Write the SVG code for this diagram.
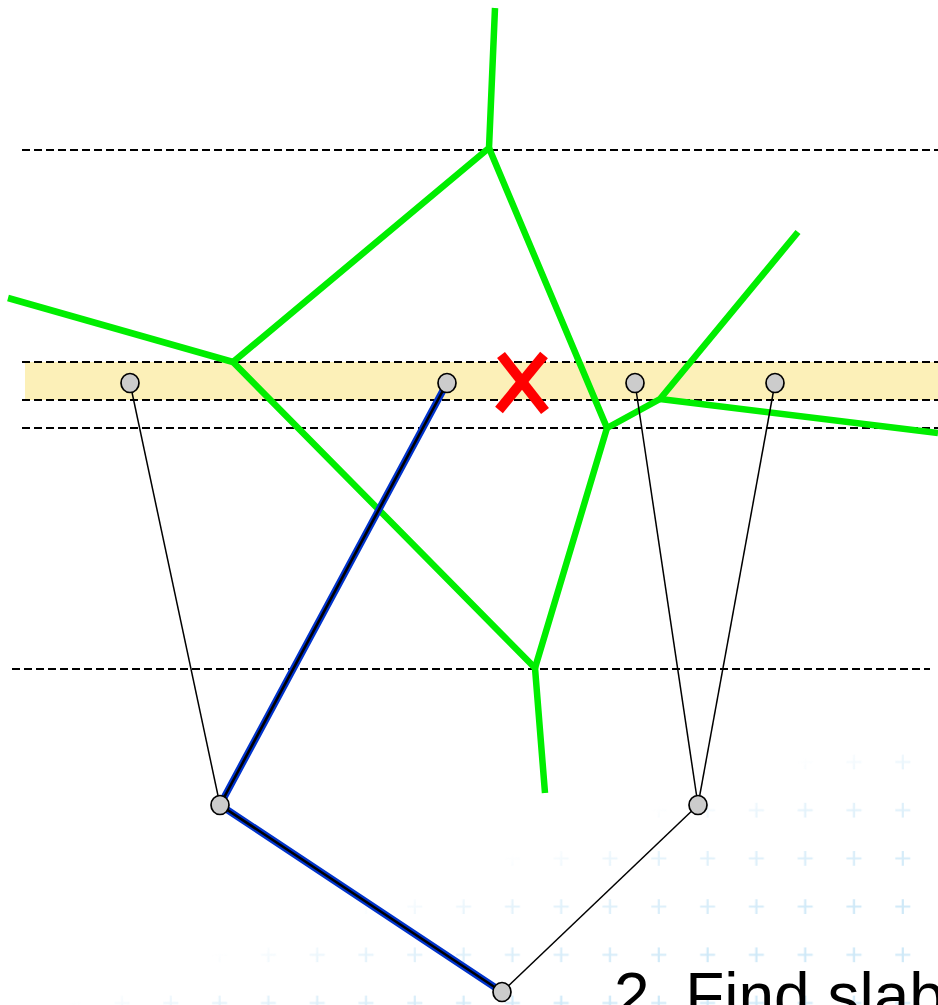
<svg xmlns="http://www.w3.org/2000/svg" width="938" height="1005" viewBox="0 0 938 1005">
<style>
.dash{stroke:#000;stroke-width:2;stroke-dasharray:8 4;fill:none}
.green{stroke:#00ee00;stroke-width:6.5;fill:none;stroke-linecap:butt;stroke-linejoin:miter}
.thin{stroke:#000;stroke-width:1.5;fill:none}
.blue{stroke:#0033cc;stroke-width:7;fill:none}
.blk{stroke:#000;stroke-width:2.6;fill:none}
.node{fill:#cccccc;stroke:#000;stroke-width:1.7}
.plus{stroke:#cfe9f8;stroke-width:2.2}
</style>
<defs>
<pattern id="pl" x="585.3" y="737.9" width="48.8" height="48.2" patternUnits="userSpaceOnUse">
<path class="plus" d="M17.2 24.1h15M24.7 16.6v15"/>
</pattern>
<linearGradient id="fade" gradientUnits="userSpaceOnUse" x1="556" y1="840" x2="606" y2="990">
<stop offset="0" stop-color="#fff" stop-opacity="0"/>
<stop offset="0.3" stop-color="#fff" stop-opacity="0.55"/>
<stop offset="1" stop-color="#fff" stop-opacity="1"/>
</linearGradient>
<mask id="m" maskUnits="userSpaceOnUse" x="0" y="700" width="938" height="305"><rect x="0" y="700" width="938" height="305" fill="url(#fade)"/></mask>
</defs>
<rect width="938" height="1005" fill="#fff"/>
<g id="bg-pattern" mask="url(#m)">
<rect x="0" y="700" width="938" height="305" fill="url(#pl)"/>
</g>
<rect id="slab" x="25" y="362" width="913" height="38" fill="#fcf0b8"/>
<g id="dashed-lines">
<line class="dash" x1="22" y1="150" x2="938" y2="150"/>
<line class="dash" x1="22" y1="362" x2="938" y2="362"/>
<line class="dash" x1="22" y1="400" x2="938" y2="400"/>
<line class="dash" x1="22" y1="428" x2="938" y2="428"/>
<line class="dash" x1="12" y1="669" x2="930" y2="669"/>
</g>
<g id="voronoi">
<polyline class="green" points="495,8 489,148 233,362 535,668 545,793"/>
<line class="green" x1="8" y1="298" x2="233" y2="362"/>
<polyline class="green" points="489,148 607,428 535,668"/>
<polyline class="green" points="607,428 660,399 798,232"/>
<line class="green" x1="660" y1="399" x2="938" y2="433"/>
</g>
<g id="connectors">
<line class="thin" x1="130" y1="383" x2="220" y2="805"/>
<line class="thin" x1="635" y1="383" x2="698" y2="805"/>
<line class="thin" x1="775" y1="383" x2="698" y2="805"/>
<line class="thin" x1="698" y1="805" x2="502" y2="992"/>
<polyline class="blue" points="447,383 220,805 502,992"/>
<polyline class="blk" points="447,383 220,805 502,992"/>
</g>
<g id="red-x" stroke="#ff0000" stroke-width="10">
<line x1="501" y1="355" x2="545" y2="411"/>
<line x1="544" y1="355" x2="499" y2="410"/>
</g>
<g id="n1"><ellipse class="node" cx="130" cy="383" rx="9" ry="9.5"/></g>
<g id="n2"><ellipse class="node" cx="447" cy="383" rx="9" ry="9.5"/></g>
<g id="n3"><ellipse class="node" cx="635" cy="383" rx="9" ry="9.5"/></g>
<g id="n4"><ellipse class="node" cx="775" cy="383" rx="9" ry="9.5"/></g>
<g id="n5"><ellipse class="node" cx="220" cy="805" rx="9" ry="9.5"/></g>
<g id="n6"><ellipse class="node" cx="698" cy="805" rx="9" ry="9.5"/></g>
<g id="n7"><ellipse class="node" cx="502" cy="992" rx="9" ry="9.5"/></g>
<text id="caption" x="614" y="1018" font-family="Liberation Sans, Arial, sans-serif" font-size="64" fill="#000">2. Find slab</text>
</svg>
